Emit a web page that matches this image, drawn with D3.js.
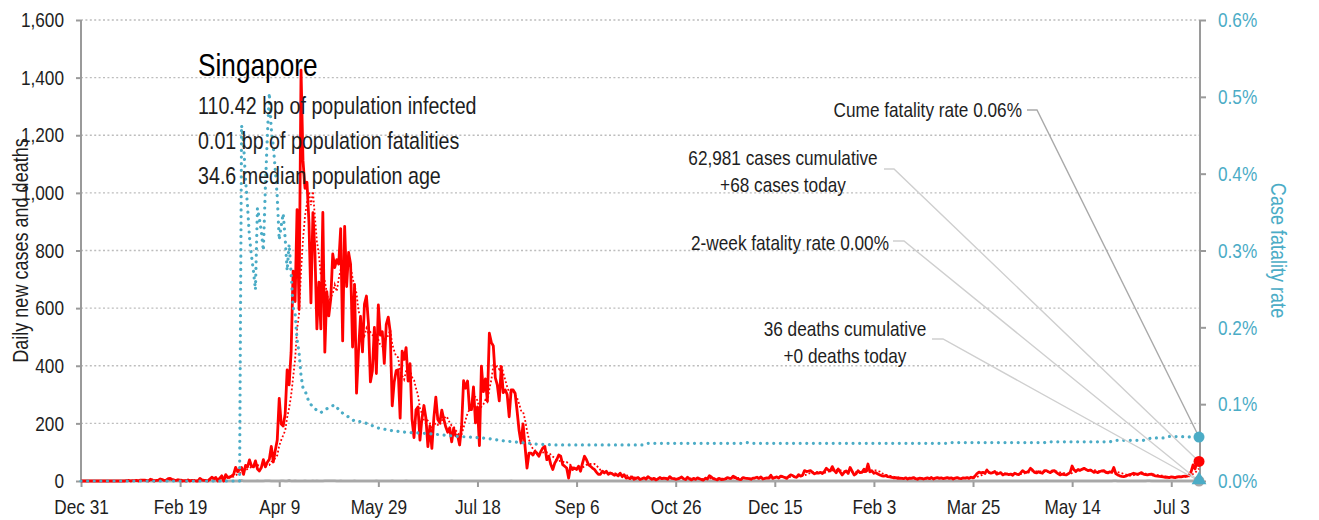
<!DOCTYPE html>
<html>
<head>
<meta charset="utf-8">
<script src="https://cdn.jsdelivr.net/npm/d3@7"></script>
<style>
  html, body { margin: 0; padding: 0; background: #fff; }
  svg { display: block; font-family: "Liberation Sans", Arial, sans-serif; }
</style>
</head>
<body>
<svg id="chart" width="1319" height="520"></svg>
<script>
// ---- data -------------------------------------------------------------
const firstDay = "2019-12-31";

// Daily new confirmed cases, one value per day starting at firstDay
const dailyCases = [
  // Dec 31 2019
  0,
  // Jan 2020
  0,0,0,0,0,0,0,0,0,0, 0,0,0,0,0,0,0,0,0,0, 0,0,1,2,0,1,1,2,0,3, 3,
  // Feb 2020
  3,2,0,6,4,0,2,3,7,5, 2,3,8,9,5,3,2,4,3,0, 1,0,4,0,2,2,0,0,9,
  // Mar 2020
  4,2,2,0,7,13,8,12,0,10, 18,0,22,12,14,17,23,47,32,40, 47,23,54,49,73,52,49,70,42,35, 47,
  // Apr 2020
  74,49,65,75,120,66,106,142,287,198, 191,233,386,334,447,728,623,942,596,1426, 1111,1016,1037,897,618,931,799,528,690,528,
  // May 2020
  932,447,657,573,632,788,741,768,753,876, 486,884,675,793,752,465,682,305,451,570, 448,614,642,548,344,383,533,373,611,506, 518,
  // Jun 2020
  408,544,569,517,261,344,383,386,218,451, 422,463,347,407,214,151,247,257,142,218, 262,218,119,191,113,219,291,213,202,246,
  // Jul 2020
  215,188,169,185,136,183,157,158,125,190, 348,322,347,248,248,327,202,257,123,399, 310,354,277,513,481,469,359,334,278,396, 307,
  // Aug 2020
  316,300,223,316,316,305,243,175,132,198, 120,45,97,97,90,103,97,86,103,115, 120,74,86,57,40,62,74,90,86,57, 51,
  // Sep 2020
  45,10,51,40,45,40,51,34,62,86, 74,57,51,45,40,31,23,23,34,28, 34,23,28,25,20,23,18,27,15,22,
  // Oct 2020
  10,12,8,14,6,9,12,5,8,11, 7,15,10,6,9,4,7,12,8,10, 9,6,15,9,8,6,7,10,14,8, 5,
  // Nov 2020
  13,7,4,9,6,11,8,5,3,10, 7,18,14,8,6,4,9,5,6,7, 12,10,9,17,13,8,6,5,12,10,
  // Dec 2020
  9,8,6,10,11,13,9,14,7,9, 11,10,20,9,12,14,10,17,15,12, 9,16,21,19,14,13,22,17,20,36, 33,
  // Jan 2021
  34,36,30,25,28,27,30,26,33,44, 38,35,50,36,29,42,31,21,30,35, 26,47,34,21,25,36,29,30,41,33, 59,
  // Feb 2021
  32,35,27,29,24,21,18,17,19,15, 14,13,11,12,9,10,9,8,11,7, 10,9,12,8,6,10,9,7,
  // Mar 2021
  9,11,8,12,7,10,12,9,11,8, 10,12,9,11,7,10,12,9,8,11, 10,12,9,13,11,17,26,31,28,30, 27,
  // Apr 2021
  38,30,27,29,33,24,26,29,21,24, 25,22,24,20,27,24,22,28,36,31, 30,34,44,38,30,28,32,29,27,36,
  // May 2021
  36,32,29,35,36,30,25,21,24,22, 21,25,30,52,38,34,40,37,41,44, 40,36,38,35,30,32,29,33,35,36, 30,
  // Jun 2021
  28,32,30,47,26,21,18,16,15,17, 20,22,24,27,25,23,26,29,24,22, 21,23,24,20,18,17,16,15,14,13,
  // Jul 2021
  13,12,14,13,12,14,15,14,16,17, 17,20,32,56,42,67,68
];

// Days with reported deaths and how many
const deathDates  = ["2020-03-21","2020-03-29","2020-04-02","2020-04-03","2020-04-04","2020-04-10","2020-04-11","2020-04-14",
                     "2020-04-17","2020-04-22","2020-04-26","2020-04-28","2020-05-02","2020-05-03","2020-05-04","2020-05-05",
                     "2020-05-06","2020-05-07","2020-05-10","2020-05-17","2020-05-28","2020-06-05","2020-06-12","2020-07-05",
                     "2020-08-04","2020-10-12","2020-12-01","2021-03-13","2021-05-01","2021-06-04","2021-06-05","2021-06-21",
                     "2021-06-22","2021-07-01"];
const deathCounts = [2,1,1,1,1,1,1,2, 1,1,1,1,1,1,1,1, 1,1,1,1,1,1,1,1, 1,1,1,1,1,1,1,1, 1,1];

// Cumulative case fatality rate (%)
const cfrDates = [
  "2019-12-31","2020-03-20","2020-03-21","2020-03-22","2020-03-23","2020-03-24","2020-03-25","2020-03-26","2020-03-27",
  "2020-03-28","2020-03-29","2020-03-30","2020-03-31","2020-04-01","2020-04-02","2020-04-03","2020-04-04","2020-04-05",
  "2020-04-06","2020-04-07","2020-04-08","2020-04-09","2020-04-10","2020-04-11","2020-04-12","2020-04-13","2020-04-14",
  "2020-04-15","2020-04-16","2020-04-17","2020-04-18","2020-04-19","2020-04-20","2020-04-21","2020-04-22","2020-04-23",
  "2020-04-24","2020-04-26","2020-04-28","2020-04-30","2020-05-03","2020-05-05","2020-05-07","2020-05-10","2020-05-13",
  "2020-05-17","2020-05-21","2020-05-25","2020-05-29","2020-06-06","2020-06-14","2020-06-22","2020-06-30","2020-07-08",
  "2020-07-16","2020-07-24","2020-08-01","2020-08-09","2020-08-17","2020-08-25","2020-10-10","2020-10-12","2020-11-28",
  "2020-12-01","2020-12-04","2021-03-12","2021-03-14","2021-04-30","2021-05-02","2021-06-02","2021-06-05","2021-06-19",
  "2021-06-23","2021-06-29","2021-07-02","2021-07-17"
];
const cfrValues = [
  0, 0, 0.463, 0.440, 0.393, 0.358, 0.317, 0.293, 0.273,
  0.249, 0.355, 0.341, 0.324, 0.300, 0.381, 0.449, 0.505, 0.458,
  0.436, 0.405, 0.370, 0.314, 0.332, 0.348, 0.316, 0.274, 0.308,
  0.270, 0.226, 0.218, 0.184, 0.167, 0.137, 0.121, 0.118, 0.110,
  0.103, 0.096, 0.092, 0.089, 0.094, 0.097, 0.099, 0.090, 0.085,
  0.078, 0.077, 0.073, 0.069, 0.065, 0.063, 0.062, 0.060, 0.058,
  0.057, 0.055, 0.052, 0.050, 0.048, 0.047, 0.047, 0.049, 0.049,
  0.050, 0.049, 0.049, 0.050, 0.050, 0.051, 0.051, 0.053, 0.053,
  0.056, 0.056, 0.058, 0.0572
];

const twoWeekFatalityRate = 0.00;   // %
const cumulativeCases = 62981;
const cumulativeDeaths = 36;

const leftTicks  = [0, 200, 400, 600, 800, 1000, 1200, 1400, 1600];
const rightTicks = [0, 0.1, 0.2, 0.3, 0.4, 0.5, 0.6];
const xTickDates = ["2019-12-31","2020-02-19","2020-04-09","2020-05-29","2020-07-18","2020-09-06",
                    "2020-10-26","2020-12-15","2021-02-03","2021-03-25","2021-05-14","2021-07-03"];

const countryName = "Singapore";
const infoLines = ["110.42 bp of population infected", "0.01 bp of population fatalities", "34.6 median population age"];
const leftTitle = "Daily new cases and deaths";
const rightTitle = "Case fatality rate";

// ---- layout -----------------------------------------------------------
const plot = { left: 81, right: 1200, top: 20, bottom: 481 };
const RED = "#ff0000", BLUE = "#4bacc6", AXIS = "#9a9a9a", GRID = "#bdbdbd", TEXT = "#1e1e1e";
const SX = 0.82;   // horizontal squeeze giving a narrow face

const parse = d3.timeParse("%Y-%m-%d");
const day0 = parse(firstDay);
const dates = dailyCases.map((_, i) => d3.timeDay.offset(day0, i));
const lastDate = dates[dates.length - 1];

// trailing 7-day mean of daily cases
const avg7 = dailyCases.map((_, i) => d3.mean(dailyCases.slice(Math.max(0, i - 6), i + 1)));

const deathByDay = new Map(deathDates.map((d, i) => [d, deathCounts[i]]));
const fmtKey = d3.timeFormat("%Y-%m-%d");
const dailyDeaths = dates.map(d => deathByDay.get(fmtKey(d)) || 0);

const cfr = cfrDates.map((d, i) => ({ date: parse(d), value: cfrValues[i] }));

const x = d3.scaleTime().domain([day0, d3.timeHour.offset(lastDate, 12)]).range([plot.left, plot.right]);
const y = d3.scaleLinear().domain([0, 1600]).range([plot.bottom, plot.top]);
const y2 = d3.scaleLinear().domain([0, 0.6]).range([plot.bottom, plot.top]);

const svg = d3.select("#chart");

// narrow text helper: positioned via transform, squeezed horizontally
function label(parent, px, py, str, size, fill, anchor = "start", rot = 0) {
  return parent.append("text")
    .attr("transform", `translate(${px},${py}) rotate(${rot}) scale(${SX},1)`)
    .attr("text-anchor", anchor).attr("font-size", size).attr("fill", fill)
    .text(str);
}
function squeezeAxisText(g) {
  g.selectAll(".tick text").each(function () {
    const t = d3.select(this);
    t.attr("x", (+t.attr("x") || 0) / SX).attr("transform", `scale(${SX},1)`);
  });
}

// grid
svg.append("g")
  .selectAll("line")
  .data(leftTicks.filter(t => t > 0))
  .join("line")
  .attr("x1", plot.left).attr("x2", plot.right)
  .attr("y1", d => y(d)).attr("y2", d => y(d))
  .attr("stroke", GRID).attr("stroke-width", 1.3).attr("stroke-dasharray", "2,2.4");

// axes
const gLeft = svg.append("g").attr("transform", `translate(${plot.left},0)`)
  .call(d3.axisLeft(y).tickValues(leftTicks).tickFormat(d3.format(",")).tickSize(5).tickPadding(12));
const gRight = svg.append("g").attr("transform", `translate(${plot.right},0)`)
  .call(d3.axisRight(y2).tickValues(rightTicks).tickFormat(d => d.toFixed(1) + "%").tickSize(6).tickPadding(12));
const gBottom = svg.append("g").attr("transform", `translate(0,${plot.bottom})`)
  .call(d3.axisBottom(x).tickValues(xTickDates.map(parse)).tickFormat(d3.timeFormat("%b %-d")).tickSize(6).tickPadding(12));

[gLeft, gRight, gBottom].forEach(g => {
  g.select(".domain").attr("stroke", AXIS).attr("stroke-width", 2);
  g.selectAll(".tick line").attr("stroke", AXIS).attr("stroke-width", 2);
  g.selectAll(".tick text").attr("font-size", 21).attr("fill", TEXT)
    .attr("font-family", "'Liberation Sans', Arial, sans-serif");
  squeezeAxisText(g);
});
gLeft.select(".domain").attr("d", `M0,${plot.top}V${plot.bottom}`);
gRight.select(".domain").attr("d", `M0,${plot.top}V${plot.bottom}`);
gBottom.select(".domain").attr("d", `M${plot.left},0H${plot.right}`).attr("stroke-width", 2.5);
gRight.selectAll(".tick text").attr("fill", BLUE);

// axis titles
label(svg, 28, (plot.top + plot.bottom) / 2, leftTitle, 22, TEXT, "middle", -90);
label(svg, 1271, (plot.top + plot.bottom) / 2, rightTitle, 22, BLUE, "middle", 90);

// series
const lineCases = d3.line().x((d, i) => x(dates[i])).y(d => y(d));

svg.append("path").datum(dailyDeaths)
  .attr("d", lineCases).attr("fill", "none")
  .attr("stroke", "#a8a8a8").attr("stroke-width", 2.5);

svg.append("path").datum(avg7)
  .attr("d", lineCases).attr("fill", "none")
  .attr("stroke", RED).attr("stroke-width", 1.8).attr("stroke-dasharray", "1.8,2.2");

svg.append("path").datum(dailyCases)
  .attr("d", lineCases).attr("fill", "none")
  .attr("stroke", RED).attr("stroke-width", 2.8).attr("stroke-linejoin", "round");

svg.append("path").datum(cfr)
  .attr("d", d3.line().x(d => x(d.date)).y(d => y2(d.value)))
  .attr("fill", "none").attr("stroke", BLUE).attr("stroke-width", 3.2)
  .attr("stroke-linecap", "round").attr("stroke-dasharray", "0.01,6.6");

// title block
label(svg, 198, 76, countryName, 32, "#000");
const gInfo = svg.append("g");
infoLines.forEach((t, i) => label(gInfo, 198, 114 + i * 35, t, 24, TEXT));

// end-of-series values
const xe = x(lastDate);
const lastCases = dailyCases[dailyCases.length - 1];
const lastDeaths = dailyDeaths[dailyDeaths.length - 1];
const lastCfr = cfrValues[cfrValues.length - 1];

const notes = [
  { lines: ["Cume fatality rate " + (cumulativeDeaths / cumulativeCases * 100).toFixed(2) + "%"],
    tx: 1022, ty: 117, anchor: "end", lx: 1027, ly: 110, kx: 1037, target: [xe, y2(lastCfr)], stroke: "#a9a9a9" },
  { lines: [d3.format(",")(cumulativeCases) + " cases cumulative", "+" + lastCases + " cases today"],
    tx: 783, ty: 165, anchor: "middle", lx: 884, ly: 169, kx: 894, target: [xe, y(lastCases)], stroke: "#cfcfcf" },
  { lines: ["2-week fatality rate " + twoWeekFatalityRate.toFixed(2) + "%"],
    tx: 889, ty: 250, anchor: "end", lx: 893, ly: 241, kx: 904, target: [xe, y2(twoWeekFatalityRate)], stroke: "#cfcfcf" },
  { lines: [cumulativeDeaths + " deaths cumulative", "+" + lastDeaths + " deaths today"],
    tx: 845, ty: 336, anchor: "middle", lx: 932, ly: 339, kx: 943, target: [xe, y(lastDeaths)], stroke: "#cfcfcf" }
];

const gNotes = svg.append("g");
notes.forEach(n => {
  gNotes.append("path")
    .attr("d", `M${n.lx},${n.ly}H${n.kx}L${n.target[0]},${n.target[1]}`)
    .attr("fill", "none").attr("stroke", n.stroke).attr("stroke-width", 1.4);
  n.lines.forEach((t, i) => label(gNotes, n.tx, n.ty + i * 27, t, 21, TEXT, n.anchor));
});

// markers
svg.append("circle").attr("cx", xe).attr("cy", y(lastDeaths)).attr("r", 5.5).attr("fill", "#a8a8a8");
svg.append("path")
  .attr("d", d3.symbol(d3.symbolTriangle, 95)())
  .attr("transform", `translate(${xe},${y2(twoWeekFatalityRate) - 1})`)
  .attr("fill", BLUE);
svg.append("circle").attr("cx", xe).attr("cy", y(lastCases)).attr("r", 5.5).attr("fill", RED);
svg.append("circle").attr("cx", xe).attr("cy", y2(lastCfr)).attr("r", 5.5).attr("fill", BLUE);
</script>
</body>
</html>
